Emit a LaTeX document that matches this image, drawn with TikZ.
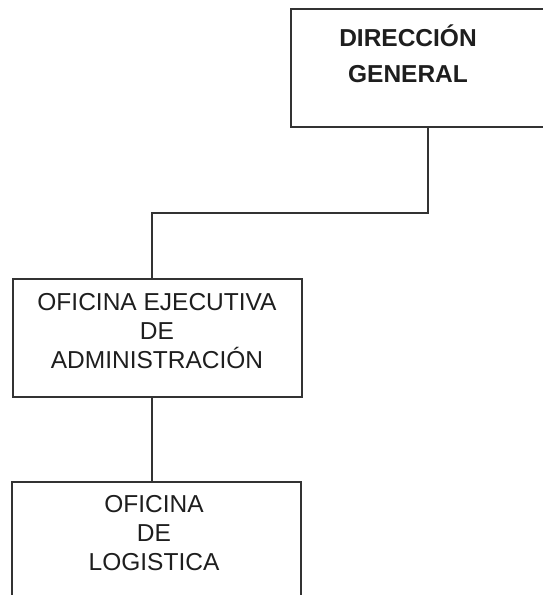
\documentclass[tikz,border=0pt]{standalone}
\usepackage{fontspec}
\setmainfont{Liberation Sans}
\usetikzlibrary{positioning}
\definecolor{cLinea}{HTML}{333333}
\definecolor{cTexto}{HTML}{1E1E1E}
\begin{document}
\begin{tikzpicture}[
  x=1pt,y=-1pt,
  caja/.style={draw=cLinea,line width=2pt,inner sep=0pt,minimum height=118pt},
  titulo/.style={align=center,anchor=base,text=cTexto,inner sep=0pt,
                 font=\fontsize{24.5}{36}\selectfont\bfseries},
  rotulo/.style={align=center,anchor=base,text=cTexto,inner sep=0pt,
                 font=\fontsize{24.5}{29}\selectfont},
  linea/.style={draw=cLinea,line width=1.8pt}
]
\path[use as bounding box,clip] (0,0) rectangle (543,595);

% ---- cajas
\node[caja,minimum width=274pt] (dg)  at (428,68)    {};
\node[caja,minimum width=289pt] (oea) at (157.5,338) {};
\node[caja,minimum width=289pt] (ol)  at (156.5,541) {};

% ---- textos (anclados en la linea base de la ultima fila)
\node[titulo] (tdg)  at (408,82)  {DIRECCIÓN\\ GENERAL};
\node[rotulo] (toea) at (157,368) {OFICINA EJECUTIVA\\ DE\\ ADMINISTRACIÓN};
\node[rotulo] (tol)  at (154,570) {OFICINA\\ DE\\ LOGISTICA};

% ---- lineas
\coordinate (codo) at (152,213);
\draw[linea] (dg.south) |- (codo) -- (codo |- oea.north);
\draw[linea] (codo |- oea.south) -- (codo |- ol.north);
\end{tikzpicture}
\end{document}
